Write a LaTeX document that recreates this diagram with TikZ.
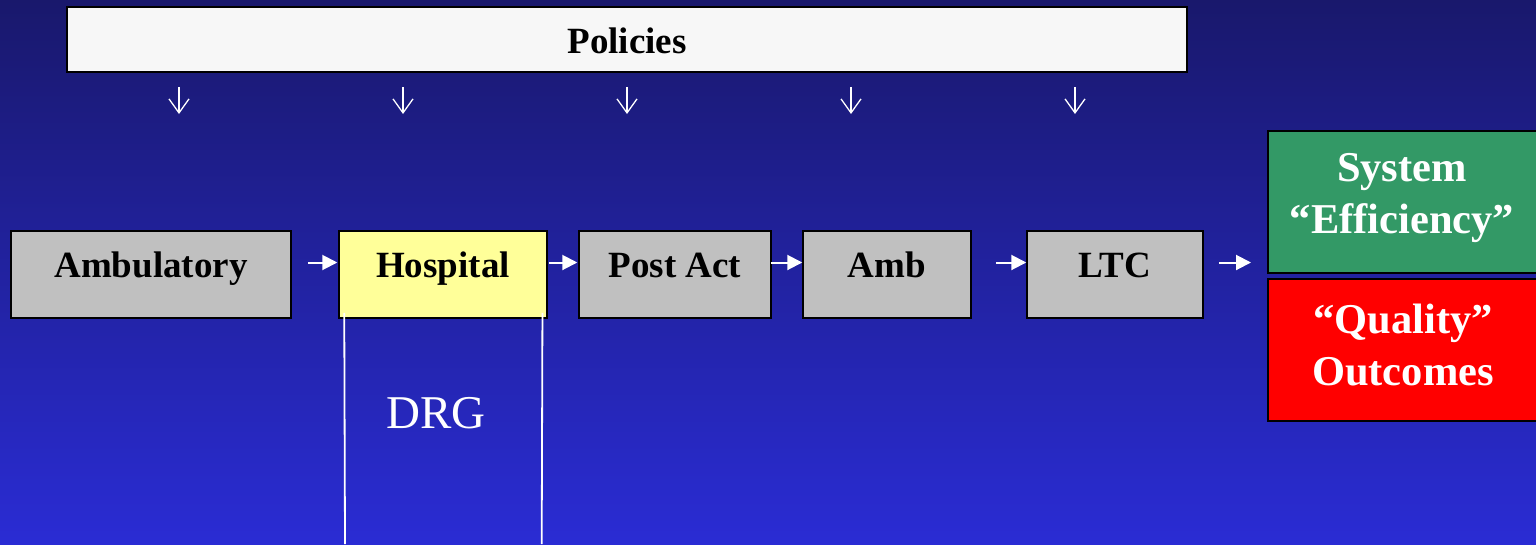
\documentclass[tikz,border=0pt]{standalone}
\usepackage{fontspec}
\setmainfont{Liberation Serif}
\usetikzlibrary{arrows.meta}
\definecolor{bgtop}{RGB}{25,24,108}
\definecolor{bgbot}{RGB}{42,44,212}
\definecolor{polfill}{RGB}{247,247,247}
\definecolor{stagegray}{RGB}{192,192,192}
\definecolor{hospyellow}{RGB}{255,255,153}
\definecolor{effgreen}{RGB}{51,153,102}
\definecolor{qualred}{RGB}{255,0,0}
\begin{document}
\begin{tikzpicture}[x=1pt,y=-1pt,
  box/.style={draw=black,line width=1.5pt,inner sep=0pt,rectangle},
  stagebox/.style={box,fill=stagegray,minimum height=87pt,text height=20pt,text depth=15pt,
    font=\bfseries\fontsize{37}{44}\selectfont,text=black},
  outbox/.style={box,minimum width=280pt,minimum height=142pt},
  outtext/.style={align=center,font=\bfseries\fontsize{42.5}{52}\selectfont,text=white,inner sep=0pt},
  flow/.style={draw=white,line width=2pt,-{Triangle[length=15pt,width=15pt]}},
  downarrow/.style={draw=white,line width=1.3pt,-{Straight Barb[length=14pt,width=20pt]}},
  drgline/.style={draw=white,line width=1.8pt},
]
\useasboundingbox (0,0) rectangle (1536,544);
\shade[top color=bgtop,bottom color=bgbot] (0,0) rectangle (1536,544);

% Policies
\node[box,fill=polfill,minimum width=1120pt,minimum height=65pt,text height=32pt,text depth=5pt,
  font=\bfseries\fontsize{37}{44}\selectfont] (pol) at (627,39.5) {Policies};

% stages
\node[stagebox,minimum width=280pt] (amb) at (151,274.5) {Ambulatory};
\node[stagebox,fill=hospyellow,minimum width=208pt] (hosp) at (443,274.5) {Hospital};
\node[stagebox,minimum width=192pt] (post) at (675,274.5) {Post Act};
\node[stagebox,minimum width=168pt] (amb2) at (887,274.5) {Amb};
\node[stagebox,minimum width=176pt] (ltc) at (1115,274.5) {LTC};

% outcome boxes
\node[outbox,fill=effgreen] (eff) at (1408,202) {};
\node[outbox,fill=qualred] (qual) at (1408,350) {};
\node[outtext] (efftext) at (1402,198) {System\\``Efficiency''};
\node[outtext] (qualtext) at (1403,345) {``Quality''\\Outcomes};

% down arrows from policies
\foreach \n/\x in {1/179,2/403,3/627,4/851,5/1075}{
  \coordinate (d\n) at (\x,114);
  \draw[downarrow] ([xshift=\x pt-627pt,yshift=-14pt]pol.south) -- (d\n);
}

% flow arrows
\draw[flow] ([xshift=16pt,yshift=12pt]amb.east) -- ([xshift=-1pt,yshift=12pt]hosp.west);
\draw[flow] ([xshift=1pt,yshift=12pt]hosp.east) -- ([xshift=-1pt,yshift=12pt]post.west);
\draw[flow] ([xshift=-1pt,yshift=12pt]post.east) -- ([yshift=12pt]amb2.west);
\draw[flow] ([xshift=24pt,yshift=12pt]amb2.east) -- ([yshift=12pt]ltc.west);
\coordinate (outend) at (1251,262.5);
\draw[flow] ([xshift=15pt,yshift=12pt]ltc.east) -- (outend);

% DRG bracket
\coordinate (drgl) at (345,544);
\coordinate (drgr) at (541.7,544);
\draw[drgline] ([xshift=6pt,yshift=6pt]hosp.south west) -- (drgl);
\draw[drgline] ([xshift=-5.3pt,yshift=6pt]hosp.south east) -- (drgr);
\node[anchor=base,inner sep=0pt,text=white,font=\fontsize{47}{56}\selectfont] (drg) at (436,428) {DRG};
\end{tikzpicture}
\end{document}
